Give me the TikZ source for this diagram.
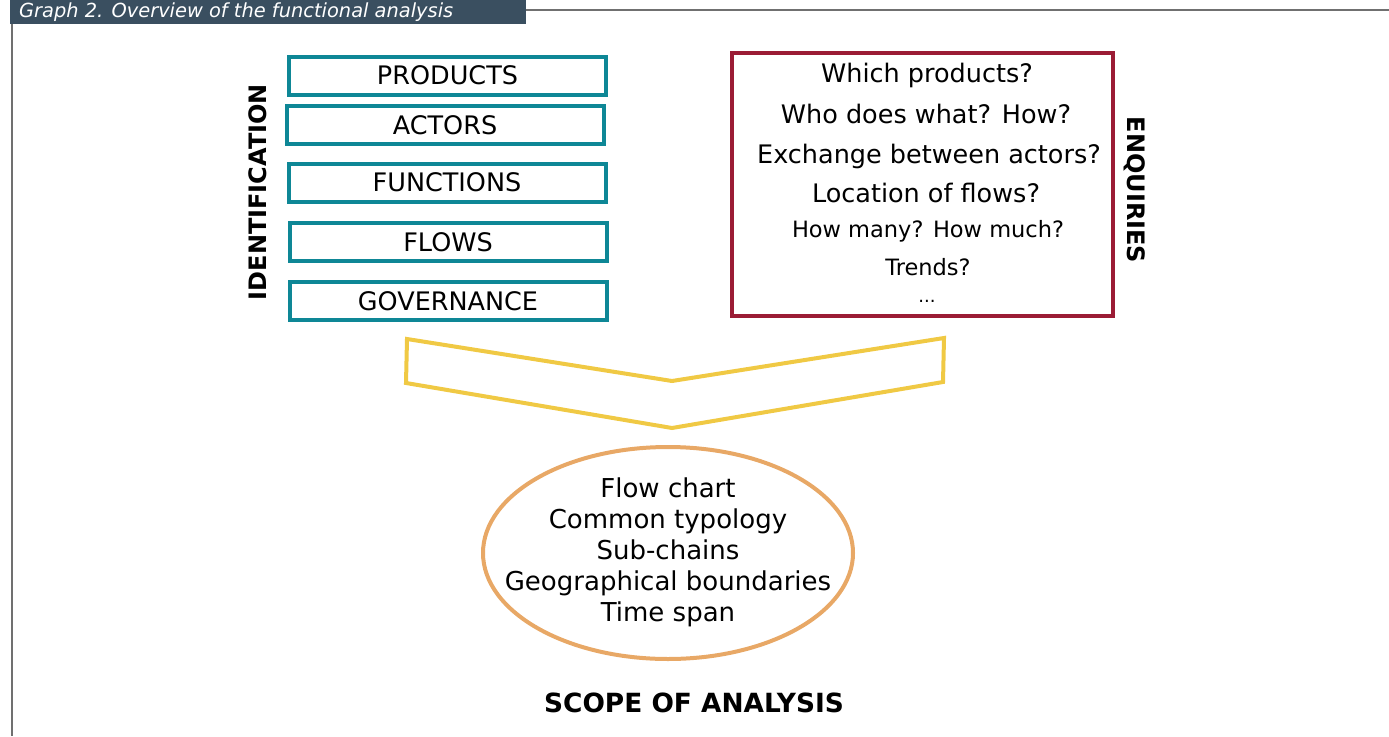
\documentclass[tikz,border=0pt]{standalone}
\usepackage{fontspec}
\setmainfont{DejaVu Sans}
\usetikzlibrary{shapes.geometric}
\definecolor{tealc}{HTML}{0E8796}
\definecolor{redc}{HTML}{9B1C35}
\definecolor{yellowc}{HTML}{F0C944}
\definecolor{orangec}{HTML}{E8A866}
\definecolor{barc}{HTML}{3A4F60}
\definecolor{framec}{HTML}{707070}
\newcommand{\txt}{\fontsize{25.5}{30}\selectfont}
\newcommand{\smtxt}{\fontsize{22.5}{27}\selectfont}
\newcommand{\bigbold}{\fontsize{24}{28}\selectfont\bfseries}
\tikzset{
  tealbox/.style={draw=tealc, line width=4pt, minimum width=317pt, minimum height=38pt, inner sep=0pt, font=\txt},
  redbox/.style={draw=redc, line width=4pt, minimum width=381pt, minimum height=263pt, inner sep=0pt},
  qtext/.style={font=\txt, inner sep=0pt},
  qsmall/.style={font=\smtxt, inner sep=0pt},
  sidelabel/.style={font=\bigbold, inner sep=0pt},
  scopeell/.style={ellipse, draw=orangec, line width=4pt, minimum width=370pt, minimum height=212pt, inner sep=0pt},
  chevron/.style={draw=yellowc, line width=4pt, line join=miter},
}
\begin{document}
\begin{tikzpicture}[x=1pt,y=-1pt]
\useasboundingbox (0,0) rectangle (1389,736);
% frame and title bar
\draw[framec, line width=1.2pt] (526,10) -- (1389,10);
\draw[framec, line width=1.2pt] (12,24) -- (12,736);
\fill[barc] (10,0) rectangle (526,24);
\node[anchor=west, text=white, font=\fontsize{19.4}{22}\selectfont\itshape, inner sep=0pt] (title) at (19,12) {Graph 2. Overview of the functional analysis};

% identification boxes
\node[tealbox] (prod) at (447.5,75.5) {PRODUCTS};
\node[tealbox] (act) at (445,125) {ACTORS};
\node[tealbox] (func) at (447,182.5) {FUNCTIONS};
\node[tealbox] (flow) at (448,242) {FLOWS};
\node[tealbox] (gov) at (448,301) {GOVERNANCE};
\node[sidelabel, rotate=90] (ident) at (258,192) {IDENTIFICATION};

% enquiries box
\node[redbox] (enq) at (922,184) {};
\node[qtext] (q1) at (927,75) {Which products?};
\node[qtext] (q2) at (926,114) {Who does what? How?};
\node[qtext] (q3) at (929,156) {Exchange between actors?};
\node[qtext] (q4) at (926,193) {Location of flows?};
\node[qsmall] (q5) at (928,231) {How many? How much?};
\node[qsmall] (q6) at (928,267) {Trends?};
\node[font=\fontsize{18}{20}\selectfont, inner sep=0pt, anchor=base] (q7) at (927,302) {...};
\node[sidelabel, rotate=-90] (enqlab) at (1135,190) {ENQUIRIES};

% chevron
\coordinate (c1) at (407,339);
\coordinate (c2) at (672,381);
\coordinate (c3) at (944,338);
\coordinate (c4) at (943,382);
\coordinate (c5) at (672,428);
\coordinate (c6) at (406,383);
\draw[chevron] (c1) -- (c2) -- (c3) -- (c4) -- (c5) -- (c6) -- cycle;

% scope ellipse
\node[scopeell] (scope) at (668,553) {};
\node[align=center, font=\fontsize{26}{31}\selectfont, inner sep=0pt] (scopetxt) at (668,552) {Flow chart\\Common typology\\Sub-chains\\Geographical boundaries\\Time span};
\node[font=\fontsize{26.4}{30}\selectfont\bfseries, inner sep=0pt] (scopelab) at (694,703) {SCOPE OF ANALYSIS};
\end{tikzpicture}
\end{document}
